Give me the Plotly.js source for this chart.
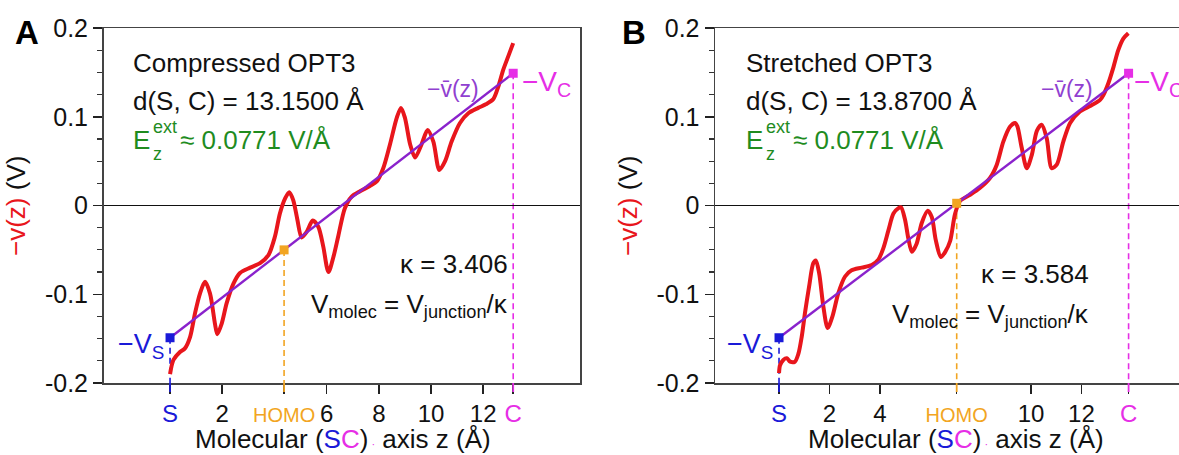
<!DOCTYPE html>
<html>
<head>
<meta charset="utf-8">
<script src="https://cdn.plot.ly/plotly-3.0.1.min.js"></script>
<style>
html,body{margin:0;padding:0;background:#fff;}
#chart{width:1179px;height:455px;}
</style>
</head>
<body>
<div id="chart"></div>
<script>
// ---------------- data ----------------
// Panel A: compressed OPT3
const zA = [0.00,0.13,0.38,0.57,0.77,0.96,1.15,1.34,1.53,1.72,1.81,1.98,2.17,2.43,2.68,3.07,3.45,3.77,4.02,4.21,4.41,4.57,4.72,4.88,5.04,5.23,5.47,5.68,5.87,6.07,6.26,6.45,6.70,6.96,7.28,7.66,7.92,8.17,8.43,8.69,8.85,9.00,9.20,9.39,9.64,9.87,10.09,10.32,10.54,10.79,11.11,11.43,11.81,12.10,12.39,12.58,12.77,12.96,13.15];
const vA = [-0.190,-0.174,-0.165,-0.161,-0.148,-0.121,-0.099,-0.086,-0.099,-0.133,-0.145,-0.133,-0.110,-0.088,-0.076,-0.070,-0.065,-0.056,-0.035,-0.009,0.008,0.015,0.006,-0.016,-0.036,-0.030,-0.017,-0.024,-0.046,-0.075,-0.058,-0.034,-0.003,0.010,0.016,0.022,0.027,0.042,0.069,0.099,0.110,0.099,0.069,0.054,0.069,0.085,0.072,0.040,0.050,0.072,0.093,0.104,0.110,0.114,0.120,0.134,0.153,0.168,0.183];
// Panel B: stretched OPT3
const zB = [0.00,0.04,0.17,0.31,0.44,0.63,0.77,0.90,1.03,1.19,1.36,1.46,1.59,1.76,1.93,2.12,2.35,2.62,2.88,3.28,3.68,3.94,4.14,4.34,4.54,4.74,4.84,5.00,5.13,5.27,5.46,5.66,5.90,6.06,6.22,6.42,6.60,6.79,6.98,7.18,7.58,7.98,8.37,8.64,8.90,9.17,9.37,9.46,9.63,9.83,10.03,10.23,10.42,10.62,10.82,11.02,11.28,11.55,11.94,12.34,12.74,12.87,13.07,13.27,13.46,13.66,13.86];
const vB = [-0.189,-0.180,-0.174,-0.172,-0.176,-0.176,-0.167,-0.148,-0.121,-0.092,-0.065,-0.062,-0.076,-0.114,-0.138,-0.125,-0.099,-0.080,-0.073,-0.070,-0.067,-0.061,-0.048,-0.028,-0.009,-0.003,-0.002,-0.016,-0.037,-0.052,-0.043,-0.020,-0.006,-0.013,-0.039,-0.058,-0.052,-0.040,-0.010,0.005,0.012,0.020,0.031,0.046,0.072,0.089,0.093,0.089,0.065,0.042,0.057,0.084,0.091,0.076,0.042,0.046,0.072,0.093,0.106,0.112,0.119,0.1245,0.138,0.156,0.175,0.188,0.194];

// linear fits -v̄(z): endpoints at S and C
const lineA_z = [0, 13.15];
const lineA_v = [-0.149, 0.149];
const lineB_z = [0, 13.87];
const lineB_v = [-0.149, 0.149];
// HOMO points
const homoA = [4.37, -0.050];
const homoB = [7.05, 0.0025];

// tick labels
const xTickValsA = [0, 2, 4.37, 6, 8, 10, 12, 13.15];
const xTickTextA = ['S', '2', 'HOMO', '6', '8', '10', '12', 'C'];
const xTickValsB = [0, 2, 4, 7.05, 10, 12, 13.87];
const xTickTextB = ['S', '2', '4', 'HOMO', '10', '12', 'C'];
const yTickVals = [-0.2, -0.1, 0, 0.1, 0.2];
const yTickText = ['-0.2', '-0.1', '0', '0.1', '0.2'];

const titleA = 'Compressed OPT3';
const titleB = 'Stretched OPT3';
const distA = 'd(S, C) = 13.1500 Å';
const distB = 'd(S, C) = 13.8700 Å';
const fieldText = '≈ 0.0771 V/Å';
const kappaA = 'κ = 3.406';
const kappaB = 'κ = 3.584';

// ---------------- styling ----------------
const W = 1179, H = 455;
const FONT = 'Liberation Sans, Arial, sans-serif';
const RED = '#e8161c', PURPLE = '#8a22cc', PURPLE_T = '#9040d0';
const BLUE = '#1a1ad8', ORANGE = '#f2a522', MAGENTA = '#e62ee6', GREEN = '#1f8c1f';
const AXC = '#444';

const domA = [103.5 / W, 580 / W], domB = [715 / W, 1.0];
const domY = [1 - 383 / H, 1 - 28 / H];
const rangeA = [-2.55, 15.71], rangeB = [-2.54, 15.87], rangeY = [-0.2, 0.2];

function colorTick(t) {
  if (t === 'S') return "<span style='color:" + BLUE + "'>S</span>";
  if (t === 'C') return "<span style='color:" + MAGENTA + "'>C</span>";
  if (t === 'HOMO') return "<span style='color:" + ORANGE + ";font-size:20px'>HOMO</span>";
  return t;
}

function xaxisDef(dom, range, vals, texts) {
  return {
    domain: dom, range: range,
    showline: true, mirror: true, linecolor: AXC, linewidth: 1.5,
    ticks: 'outside', ticklen: 9, tickwidth: 1.5, tickcolor: '#222',
    tickmode: 'array', tickvals: vals, ticktext: texts.map(colorTick),
    tickfont: {family: FONT, size: 24, color: '#111'},
    showgrid: false, zeroline: false, fixedrange: true
  };
}
function yaxisDef(anchor, mirror) {
  return {
    domain: domY, range: rangeY, anchor: anchor,
    showline: true, mirror: mirror, linecolor: AXC, linewidth: 1.5,
    ticks: 'outside', ticklen: 9, tickwidth: 1.5, tickcolor: '#222',
    tickmode: 'array', tickvals: yTickVals, ticktext: yTickText,
    tickfont: {family: FONT, size: 25, color: '#111'},
    minor: {dtick: 0.025, tick0: 0, ticks: 'outside', ticklen: 5, tickwidth: 1.2, tickcolor: '#333', showgrid: false},
    showgrid: false, zeroline: true, zerolinecolor: '#111', zerolinewidth: 1,
    fixedrange: true
  };
}

const traces = [
  {x: zA, y: vA, xaxis: 'x', yaxis: 'y', mode: 'lines', line: {color: RED, width: 4, shape: 'spline', smoothing: 0.8}, hoverinfo: 'skip'},
  {x: lineA_z, y: lineA_v, xaxis: 'x', yaxis: 'y', mode: 'lines', line: {color: PURPLE, width: 2.4}, hoverinfo: 'skip'},
  {x: [lineA_z[0]], y: [lineA_v[0]], xaxis: 'x', yaxis: 'y', mode: 'markers', marker: {symbol: 'square', size: 9, color: BLUE}, cliponaxis: false},
  {x: [homoA[0]], y: [homoA[1]], xaxis: 'x', yaxis: 'y', mode: 'markers', marker: {symbol: 'square', size: 9, color: ORANGE}, cliponaxis: false},
  {x: [lineA_z[1]], y: [lineA_v[1]], xaxis: 'x', yaxis: 'y', mode: 'markers', marker: {symbol: 'square', size: 9, color: MAGENTA}, cliponaxis: false},

  {x: zB, y: vB, xaxis: 'x2', yaxis: 'y2', mode: 'lines', line: {color: RED, width: 4, shape: 'spline', smoothing: 0.8}, hoverinfo: 'skip'},
  {x: lineB_z, y: lineB_v, xaxis: 'x2', yaxis: 'y2', mode: 'lines', line: {color: PURPLE, width: 2.4}, hoverinfo: 'skip'},
  {x: [lineB_z[0]], y: [lineB_v[0]], xaxis: 'x2', yaxis: 'y2', mode: 'markers', marker: {symbol: 'square', size: 9, color: BLUE}, cliponaxis: false},
  {x: [homoB[0]], y: [homoB[1]], xaxis: 'x2', yaxis: 'y2', mode: 'markers', marker: {symbol: 'square', size: 9, color: ORANGE}, cliponaxis: false},
  {x: [lineB_z[1]], y: [lineB_v[1]], xaxis: 'x2', yaxis: 'y2', mode: 'markers', marker: {symbol: 'square', size: 9, color: MAGENTA}, cliponaxis: false}
];

// paper x for a data z
function paperX(z, dom, range) { return dom[0] + (z - range[0]) / (range[1] - range[0]) * (dom[1] - dom[0]); }

function dropLines(xr, yr, dom, range, pts) {
  const out = [];
  pts.forEach(p => {
    out.push({type: 'line', xref: xr, yref: yr, x0: p[0], x1: p[0], y0: p[1], y1: rangeY[0],
      line: {color: p[2], width: 1.6, dash: '6px,4px'}, layer: 'below'});
    const px = paperX(p[0], dom, range);
    out.push({type: 'line', xref: 'paper', yref: 'paper', x0: px, x1: px, y0: domY[0], y1: domY[0] - 9 / H,
      line: {color: p[2], width: 1.8}});
  });
  return out;
}
const shapes = [].concat(
  dropLines('x', 'y', domA, rangeA, [[lineA_z[0], lineA_v[0], BLUE], [homoA[0], homoA[1], ORANGE], [lineA_z[1], lineA_v[1], MAGENTA]]),
  dropLines('x2', 'y2', domB, rangeB, [[lineB_z[0], lineB_v[0], BLUE], [homoB[0], homoB[1], ORANGE], [lineB_z[1], lineB_v[1], MAGENTA]])
);

function ann(text, xpx, ypx, o) {
  o = o || {};
  return Object.assign({
    text: text, xref: 'paper', yref: 'paper', x: xpx / W, y: 1 - ypx / H,
    showarrow: false, xanchor: 'left', yanchor: 'middle',
    font: {family: FONT, size: o.size || 26, color: o.color || '#111'}, borderpad: 0
  }, o.extra || {});
}

function panelAnns(dx, letter, title, dist, kappa, pos) {
  return [
    ann('<b>' + letter + '</b>', pos.letterX, 33, {size: 33, color: '#000', extra: {xanchor: 'center'}}),
    ann(title, 132 + dx, 63),
    ann(dist, 132 + dx, 101),
    ann('E', 132 + dx, 140, {color: GREEN}),
    ann('ext', 151.5 + dx, 127, {size: 18, color: GREEN}),
    ann('z', 151.5 + dx, 154, {size: 18, color: GREEN}),
    ann(fieldText, 179 + dx, 140, {color: GREEN}),
    ann('−v̄(z)', pos.vbarX, 89, {size: 23, color: PURPLE_T, extra: {xanchor: 'center'}}),
    ann('−V<sub>C</sub>', pos.vcX, 83, {size: 28, color: MAGENTA}),
    ann('−V<sub>S</sub>', pos.vsX, 346, {size: 27, color: BLUE, extra: {xanchor: 'right'}}),
    ann(kappa, pos.rightX, pos.kY, {extra: {xanchor: 'right'}}),
    ann('V<sub>molec</sub> = V<sub>junction</sub>/κ', pos.rightX, pos.mY, {extra: {xanchor: 'right'}}),
    ann("<span style='color:" + RED + "'>−v(z)</span> (V)", pos.ytX, 206, {size: 26, extra: {xanchor: 'center', textangle: -90}}),
    ann("Molecular (<span style='color:" + BLUE + "'>S</span><span style='color:" + MAGENTA + "'>C</span>)<span style='color:" + MAGENTA + ";font-size:11px'> ·</span> axis z (Å)",
        pos.xtX, 439, {size: 26, extra: {xanchor: 'center'}})
  ];
}

const annotations = [].concat(
  panelAnns(0, 'A', titleA, distA, kappaA, {letterX: 27, vbarX: 453, vcX: 521, vsX: 165, rightX: 509, kY: 264, mY: 305, ytX: 16, xtX: 343}),
  panelAnns(613, 'B', titleB, distB, kappaB, {letterX: 634, vbarX: 1067, vcX: 1133, vsX: 774, rightX: 1090, kY: 274, mY: 315, ytX: 628, xtX: 956})
);

const layout = {
  width: W, height: H,
  margin: {l: 0, r: 0, t: 0, b: 0},
  paper_bgcolor: '#fff', plot_bgcolor: '#fff',
  showlegend: false,
  font: {family: FONT, color: '#111'},
  xaxis: Object.assign(xaxisDef(domA, rangeA, xTickValsA, xTickTextA), {anchor: 'y'}),
  yaxis: yaxisDef('x', true),
  xaxis2: Object.assign(xaxisDef(domB, rangeB, xTickValsB, xTickTextB), {anchor: 'y2'}),
  yaxis2: yaxisDef('x2', false),
  shapes: shapes,
  annotations: annotations
};

Plotly.newPlot('chart', traces, layout, {staticPlot: true, displayModeBar: false});
</script>
</body>
</html>
